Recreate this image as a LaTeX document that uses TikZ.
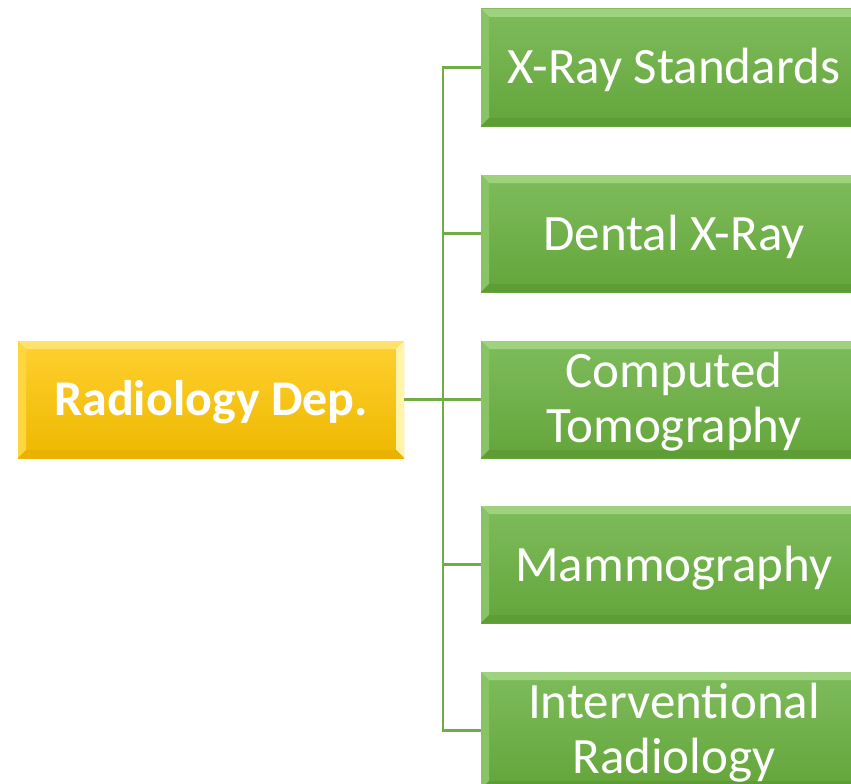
\documentclass[tikz,border=0pt]{standalone}
\usepackage{fontspec}
\setmainfont{Carlito}
\definecolor{linegreen}{RGB}{112,173,71}
\definecolor{gTop}{RGB}{126,188,92}
\definecolor{gBot}{RGB}{100,165,58}
\definecolor{gBevTop}{RGB}{158,210,126}
\definecolor{gBevLeft}{RGB}{136,196,102}
\definecolor{gBevRight}{RGB}{102,164,62}
\definecolor{gBevBot}{RGB}{94,156,54}
\definecolor{yTop}{RGB}{255,208,48}
\definecolor{yBot}{RGB}{238,184,0}
\definecolor{yBevTop}{RGB}{255,226,110}
\definecolor{yBevLeft}{RGB}{255,214,64}
\definecolor{yBevRight}{RGB}{255,244,170}
\definecolor{yBevBot}{RGB}{234,178,0}
\tikzset{
  bevel/.style n args={4}{path picture={
    \fill[#1] (path picture bounding box.north west) -- (path picture bounding box.north east)
      -- ([shift={(-8pt,-8pt)}]path picture bounding box.north east)
      -- ([shift={(8pt,-8pt)}]path picture bounding box.north west) -- cycle;
    \fill[#2] (path picture bounding box.north west) -- (path picture bounding box.south west)
      -- ([shift={(8pt,8pt)}]path picture bounding box.south west)
      -- ([shift={(8pt,-8pt)}]path picture bounding box.north west) -- cycle;
    \fill[#3] (path picture bounding box.north east) -- (path picture bounding box.south east)
      -- ([shift={(-8pt,8pt)}]path picture bounding box.south east)
      -- ([shift={(-8pt,-8pt)}]path picture bounding box.north east) -- cycle;
    \fill[#4] (path picture bounding box.south west) -- (path picture bounding box.south east)
      -- ([shift={(-8pt,8pt)}]path picture bounding box.south east)
      -- ([shift={(8pt,8pt)}]path picture bounding box.south west) -- cycle;
  }},
  boxbase/.style={rectangle, inner sep=0pt, minimum width=386pt, minimum height=117pt,
    text=white, align=center},
  greenbox/.style={boxbase, top color=gTop, bottom color=gBot,
    bevel={gBevTop}{gBevLeft}{gBevRight}{gBevBot},
    font=\fontsize{51}{55}\selectfont},
  onerow/.style={text height=33pt, text depth=0pt},
  tworow/.style={text height=88pt, text depth=3pt},
  rootbox/.style={boxbase, top color=yTop, bottom color=yBot,
    bevel={yBevTop}{yBevLeft}{yBevRight}{yBevBot},
    font=\fontsize{50}{55}\selectfont\bfseries, text height=31pt, text depth=0pt},
  conn/.style={draw=linegreen, line width=2.6pt}
}
\begin{document}
\begin{tikzpicture}[x=1pt, y=-1pt]
  \useasboundingbox (0,0) rectangle (851,784);
  \clip (0,0) rectangle (851,784);

  % root and branch boxes
  \node[rootbox] (rad) at (211,399.5) {Radiology Dep.};
  \node[greenbox, onerow] (xray) at (674,67.5) {X-Ray Standards};
  \node[greenbox, onerow] (dental) at (674,233.5) {Dental X-Ray};
  \node[greenbox, tworow] (ct) at (674,399.5) {Computed\\Tomography};
  \node[greenbox, onerow] (mammo) at (674,564.5) {Mammography};
  \node[greenbox, tworow] (ir) at (674,730.5) {Interventional\\Radiology};

  % connectors through a common vertical trunk
  \coordinate (fork) at (443,399.5);
  \draw[conn] (rad.east) -- (fork);
  \draw[conn] (fork) |- (xray.west);
  \draw[conn] (fork) |- (dental.west);
  \draw[conn] (fork) |- (ct.west);
  \draw[conn] (fork) |- (mammo.west);
  \draw[conn] (fork) |- (ir.west);
\end{tikzpicture}
\end{document}
